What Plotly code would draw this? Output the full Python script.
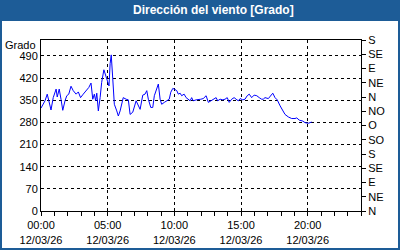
import plotly.graph_objects as go

day = "2026-03-12"
times = ["00:00","00:18","00:28","00:37","00:45","00:55","01:08","01:13","01:22","01:30",
         "01:38","01:48","01:56","02:05","02:15","02:25","02:38","02:48","02:58","03:10",
         "03:23","03:35","03:45","03:53","04:00","04:06","04:11","04:18","04:26","04:33",
         "04:43","04:51","04:58","05:06","05:11","05:16","05:23","05:30","05:41","05:48",
         "05:56","06:03","06:10","06:23","06:33","06:41","06:53","07:08","07:18","07:26",
         "07:38","07:48","07:56","08:03","08:14","08:23","08:30","08:41","08:48","08:56",
         "09:03","09:15","09:26","09:37","09:44","09:53","10:00","10:11","10:18","10:26",
         "10:33","10:44","10:53","11:03","11:11","11:18","11:25","11:38","11:48","11:59",
         "12:10","12:23","12:33","12:44","12:55","13:08","13:15","13:26","13:38","13:48",
         "13:58","14:07","14:18","14:29","14:38","14:48","14:56","15:08","15:18","15:28",
         "15:37","15:48","15:59","16:11","16:22","16:33","16:40","16:48","17:03","17:14",
         "17:23","17:33","17:43","17:56","18:08","18:18","18:33","18:48","19:03","19:11",
         "19:22","19:38","19:48","20:03","20:18"]
direction = [325,348,369,344,319,358,385,360,385,353,
             318,348,364,369,394,380,369,376,358,369,
             380,390,404,353,369,348,372,316,358,406,
             446,427,411,395,465,493,417,337,316,300,
             316,343,358,353,351,305,312,348,332,321,
             366,369,380,353,327,327,364,387,401,353,
             337,343,348,353,375,387,385,380,369,372,
             364,369,358,353,348,358,348,351,351,353,
             355,364,343,348,353,358,348,353,351,353,
             358,343,353,358,353,348,355,351,353,364,
             369,358,366,364,358,353,353,358,355,364,
             372,358,351,332,316,305,297,292,292,294,
             287,284,279,277,281]

left_ticks = [0, 70, 140, 210, 280, 350, 420, 490]
right_vals = [0, 45, 90, 135, 180, 225, 270, 315, 360, 405, 450, 495, 540]
right_text = ["N", "NE", "E", "SE", "S", "SO", "O", "NO", "N", "NE", "E", "SE", "S"]
title = "Dirección del viento [Grado]"
unit = "Grado"

x = [f"{day} {t}" for t in times]
BLUE = "#1d5c97"
FONT = "Liberation Sans"

fig = go.Figure()
fig.add_trace(go.Scatter(x=x, y=direction, mode="lines",
                         line=dict(color="#0000ff", width=1), hoverinfo="skip",
                         showlegend=False))
fig.add_trace(go.Scatter(x=x, y=direction, mode="lines", yaxis="y2",
                         line=dict(color="rgba(0,0,0,0)", width=0), hoverinfo="skip",
                         showlegend=False))

L, R, T, B, W, H = 41, 39, 40, 39, 400, 250
pw, ph = W - L - R, H - T - B
def px(v): return (v - L) / pw
def py(v): return (H - B - v) / ph

fig.update_layout(
    width=W, height=H,
    margin=dict(l=L, r=R, t=T, b=B, pad=0, autoexpand=False),
    paper_bgcolor="white", plot_bgcolor="white",
    font=dict(family=FONT, size=11, color="black"),
    xaxis=dict(type="date", range=[f"{day} 00:00", "2026-03-13 00:00"],
               tick0=f"{day} 00:00", dtick=5*3600*1000,
               tickformat="%H:%M<br>%d/%m/%y",
               ticks="outside", ticklen=4, tickcolor="black",
               showline=True, linecolor="black", linewidth=1, mirror=True,
               showgrid=True, gridcolor="black", gridwidth=1, griddash="3px,3px",
               minor=dict(dtick=3600*1000, ticks="outside", ticklen=4,
                          tickcolor="black", showgrid=False),
               automargin=False, fixedrange=True),
    yaxis=dict(range=[0, 540], tickvals=left_ticks, ticks="",
               showline=True, linecolor="black", linewidth=1,
               showgrid=True, gridcolor="black", gridwidth=1, griddash="3px,3px",
               zeroline=False, automargin=False, fixedrange=True),
    yaxis2=dict(range=[0, 540], overlaying="y", side="right",
                tickvals=right_vals, ticktext=right_text,
                ticks="outside", ticklen=4, tickcolor="black",
                showline=True, linecolor="black", linewidth=1,
                showgrid=False, zeroline=False, automargin=False, fixedrange=True),
    shapes=[
        dict(type="rect", xref="paper", yref="paper", layer="below",
             x0=px(0), x1=px(W), y0=py(21), y1=py(0),
             fillcolor=BLUE, line=dict(width=0)),
        dict(type="rect", xref="paper", yref="paper", layer="above",
             x0=px(1), x1=px(W - 1), y0=py(H - 1), y1=py(1),
             fillcolor="rgba(0,0,0,0)", line=dict(color=BLUE, width=2)),
    ],
    annotations=[
        dict(text=f"<b>{title}</b>", xref="paper", yref="paper",
             x=px(213), y=py(10.5), xanchor="center", yanchor="middle",
             showarrow=False, font=dict(family=FONT, size=12, color="white")),
        dict(text=unit, xref="paper", yref="paper",
             x=px(38), y=py(45), xanchor="right", yanchor="middle",
             showarrow=False, font=dict(family=FONT, size=11, color="black")),
    ],
)

fig.write_html("out.html")
